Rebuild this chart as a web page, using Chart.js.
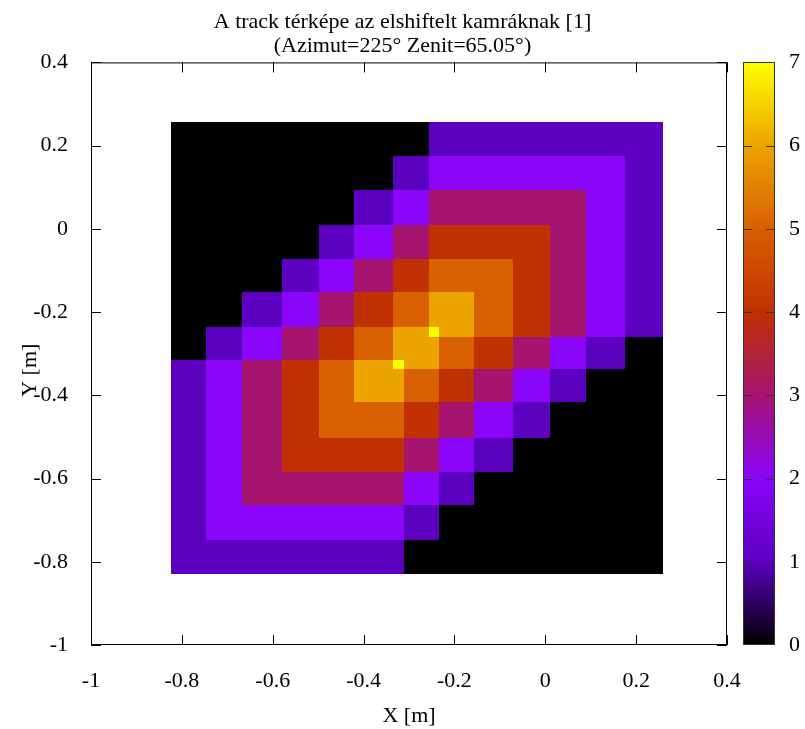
<!DOCTYPE html>
<html>
<head>
<meta charset="utf-8">
<script src="https://cdn.jsdelivr.net/npm/chart.js@4/dist/chart.umd.min.js"></script>
<style>
  html, body { margin: 0; padding: 0; background: #fff; }
  #wrap { width: 805px; height: 729px; }
</style>
</head>
<body>
<div id="wrap"><canvas id="trackMap" width="805" height="729"></canvas></div>
<script>
// cell edges in metres (x left->right, y top->bottom)
const xEdges = [-0.825, -0.746, -0.667, -0.580, -0.499, -0.422, -0.336, -0.312,
                -0.257, -0.235, -0.156, -0.070, 0.010, 0.089, 0.176, 0.259];
const yEdges = [0.256, 0.174, 0.094, 0.009, -0.073, -0.152, -0.236, -0.260,
                -0.316, -0.337, -0.417, -0.503, -0.584, -0.664, -0.747, -0.830];

// track counts per cell, rows from top to bottom
const counts = [
  [0,0,0,0,0,0,0,0,1,1,1,1,1,1,1],
  [0,0,0,0,0,0,1,1,2,2,2,2,2,2,1],
  [0,0,0,0,0,1,2,2,3,3,3,3,3,2,1],
  [0,0,0,0,1,2,3,3,4,4,4,4,3,2,1],
  [0,0,0,1,2,3,4,4,5,5,5,4,3,2,1],
  [0,0,1,2,3,4,5,5,6,6,5,4,3,2,1],
  [0,1,2,3,4,5,6,6,7,6,5,4,3,2,1],
  [0,1,2,3,4,5,6,6,6,5,4,3,2,1,0],
  [1,2,3,4,5,6,7,6,6,5,4,3,2,1,0],
  [1,2,3,4,5,6,6,5,5,4,3,2,1,0,0],
  [1,2,3,4,5,5,5,4,4,3,2,1,0,0,0],
  [1,2,3,4,4,4,4,3,3,2,1,0,0,0,0],
  [1,2,3,3,3,3,3,2,2,1,0,0,0,0,0],
  [1,2,2,2,2,2,2,1,1,0,0,0,0,0,0],
  [1,1,1,1,1,1,1,0,0,0,0,0,0,0,0]
];

const paletteColors = ['#000000', '#5c00c0', '#8a05fa', '#a51570',
                       '#c03000', '#d86000', '#eca400', '#ffff00'];

const axisMin = -1;
const axisMax = 0.4;
const tickStep = 0.2;
const cbMin = 0;
const cbMax = 7;

const titleLines = ['A track térképe az elshiftelt kamráknak [1]', '(Azimut=225° Zenit=65.05°)'];

const serif = { family: "'Liberation Serif', 'DejaVu Serif', serif", size: 22 };
const fmt = v => String(Math.round(v * 10) / 10);

const heatmap = {
  id: 'heatmap',
  beforeDatasetsDraw(chart) {
    const { ctx, scales: { x, y } } = chart;
    ctx.save();
    counts.forEach((row, r) => {
      const top = Math.round(y.getPixelForValue(yEdges[r]));
      const bottom = Math.round(y.getPixelForValue(yEdges[r + 1]));
      row.forEach((v, c) => {
        const left = Math.round(x.getPixelForValue(xEdges[c]));
        const right = Math.round(x.getPixelForValue(xEdges[c + 1]));
        ctx.fillStyle = paletteColors[v];
        ctx.fillRect(left, top, right - left, bottom - top);
      });
    });
    ctx.restore();
  },
  afterDraw(chart) {
    const { ctx, chartArea: a, scales: { x, y, cb } } = chart;
    ctx.save();
    ctx.strokeStyle = '#000';
    ctx.lineWidth = 1;
    // frame + inward ticks on all four sides
    ctx.strokeRect(a.left + 0.5, a.top + 0.5, a.right - a.left - 1, a.bottom - a.top - 1);
    ctx.beginPath();
    x.ticks.forEach(t => {
      const px = Math.round(x.getPixelForValue(t.value)) + 0.5;
      ctx.moveTo(px, a.bottom); ctx.lineTo(px, a.bottom - 10);
      ctx.moveTo(px, a.top); ctx.lineTo(px, a.top + 10);
    });
    y.ticks.forEach(t => {
      const py = Math.round(y.getPixelForValue(t.value)) + 0.5;
      ctx.moveTo(a.left, py); ctx.lineTo(a.left + 10, py);
      ctx.moveTo(a.right, py); ctx.lineTo(a.right - 10, py);
    });
    ctx.stroke();

    // colour box
    const cbLeft = a.right + 16;
    const cbWidth = 32;
    const cbTop = Math.round(cb.getPixelForValue(cbMax));
    const cbBottom = Math.round(cb.getPixelForValue(cbMin));
    const grad = ctx.createLinearGradient(0, cbBottom, 0, cbTop);
    paletteColors.forEach((col, i) => grad.addColorStop(i / (paletteColors.length - 1), col));
    ctx.fillStyle = grad;
    ctx.fillRect(cbLeft, cbTop, cbWidth, cbBottom - cbTop);
    ctx.strokeStyle = '#333';
    ctx.strokeRect(cbLeft + 0.5, cbTop + 0.5, cbWidth - 1, cbBottom - cbTop - 1);
    ctx.beginPath();
    cb.ticks.forEach(t => {
      if (t.value === cbMin || t.value === cbMax) return;
      const py = Math.round(cb.getPixelForValue(t.value)) + 0.5;
      ctx.moveTo(cbLeft, py); ctx.lineTo(cbLeft + 9, py);
      ctx.moveTo(cbLeft + cbWidth, py); ctx.lineTo(cbLeft + cbWidth - 9, py);
    });
    ctx.stroke();
    ctx.restore();
  }
};

// fixed box sizes so the plot frame lands where gnuplot put it
const fixWidth = w => s => { s.width = w; s.paddingTop = 0; s.paddingBottom = 0; };

new Chart(document.getElementById('trackMap'), {
  type: 'scatter',
  data: { datasets: [{ label: 'track', data: [], pointRadius: 0 }] },
  options: {
    responsive: false,
    animation: false,
    devicePixelRatio: 1,
    layout: { padding: 0, autoPadding: false },
    plugins: {
      legend: { display: false },
      tooltip: { enabled: false },
      title: {
        display: true,
        text: titleLines,
        color: '#000',
        font: { ...serif, weight: 'normal', lineHeight: 1.1 },
        padding: { top: 10, bottom: 4 }
      }
    },
    scales: {
      x: {
        type: 'linear', position: 'bottom', min: axisMin, max: axisMax,
        grid: { display: false, drawTicks: false },
        border: { display: false },
        ticks: { stepSize: tickStep, callback: fmt, color: '#000', font: serif, padding: 23, maxRotation: 0, autoSkip: false },
        title: { display: true, text: 'X [m]', color: '#000', font: serif, padding: { top: 0, bottom: 0 } },
        afterFit: s => { s.height = 84; s.paddingLeft = 0; s.paddingRight = 0; }
      },
      y: {
        type: 'linear', position: 'left', min: axisMin, max: axisMax,
        grid: { display: false, drawTicks: false },
        border: { display: false },
        ticks: { stepSize: tickStep, callback: fmt, color: '#000', font: serif, padding: 23, autoSkip: false },
        title: { display: true, text: 'Y [m]      ', color: '#000', font: serif, padding: { top: 17, bottom: 0 } },
        afterFit: fixWidth(91)
      },
      cb: {
        type: 'linear', position: 'right', min: cbMin, max: cbMax,
        grid: { display: false, drawTicks: false },
        border: { display: false },
        ticks: { stepSize: 1, color: '#000', font: serif, padding: 62 },
        afterFit: fixWidth(78)
      }
    }
  },
  plugins: [heatmap]
});
</script>
</body>
</html>
